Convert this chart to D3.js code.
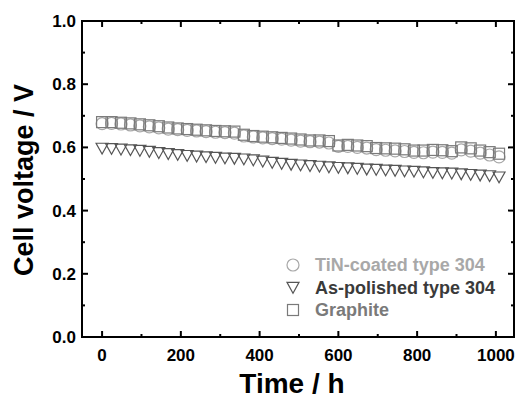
<!DOCTYPE html>
<html>
<head>
<meta charset="utf-8">
<script src="https://cdn.jsdelivr.net/npm/d3@7"></script>
<style>
  body { margin: 0; background: #fff; }
  text { font-family: "Liberation Sans", Arial, sans-serif; font-weight: bold; }
</style>
</head>
<body>
<svg id="chart" width="516" height="399"></svg>
<script>
// ----------

const HOURS = [0, 24, 48, 72, 96, 120, 144, 168, 192, 216, 240, 264, 288, 312, 336, 360, 384, 408, 432, 456, 480,
  504, 528, 552, 576, 600, 624, 648, 672, 696, 720, 744, 768, 792, 816, 840, 864, 888, 912, 936, 960, 984, 1008];

const GRAPHITE = [0.680, 0.680, 0.678, 0.676, 0.673, 0.670, 0.667, 0.663, 0.660, 0.658, 0.656, 0.654, 0.652, 0.651,
  0.650, 0.640, 0.636, 0.634, 0.632, 0.630, 0.628, 0.625, 0.622, 0.622, 0.620, 0.606, 0.608, 0.606, 0.604, 0.598,
  0.597, 0.596, 0.594, 0.590, 0.590, 0.592, 0.591, 0.588, 0.600, 0.597, 0.590, 0.585, 0.580];

const TIN_COATED = [0.675, 0.676, 0.674, 0.671, 0.668, 0.665, 0.662, 0.658, 0.656, 0.654, 0.652, 0.650, 0.648, 0.647,
  0.645, 0.636, 0.633, 0.630, 0.628, 0.626, 0.623, 0.620, 0.618, 0.617, 0.614, 0.603, 0.603, 0.600, 0.598, 0.593,
  0.591, 0.589, 0.587, 0.584, 0.583, 0.585, 0.584, 0.582, 0.592, 0.588, 0.582, 0.576, 0.570];

const AS_POLISHED = [0.597, 0.596, 0.594, 0.592, 0.590, 0.587, 0.583, 0.580, 0.577, 0.574, 0.572, 0.570, 0.568, 0.566,
  0.565, 0.563, 0.560, 0.556, 0.552, 0.549, 0.546, 0.544, 0.542, 0.540, 0.538, 0.536, 0.535, 0.533, 0.531, 0.530,
  0.528, 0.527, 0.525, 0.524, 0.522, 0.520, 0.519, 0.518, 0.516, 0.514, 0.512, 0.510, 0.506];

const X_TICKS = [0, 200, 400, 600, 800, 1000];
const X_MINOR = [100, 300, 500, 700, 900];
const Y_TICKS = [0.0, 0.2, 0.4, 0.6, 0.8, 1.0];
const Y_MINOR = [0.1, 0.3, 0.5, 0.7, 0.9];

const LEGEND = [
  { name: "TiN-coated type 304", symbol: "circle", color: "#a8a8a8", text: "#a8a8a8" },
  { name: "As-polished type 304", symbol: "triangle", color: "#555", text: "#3a3a3a" },
  { name: "Graphite", symbol: "square", color: "#7a7a7a", text: "#7a7a7a" }
];

// ----------

const PLOT = { left: 82, right: 514, top: 21, bottom: 337 };
const svg = d3.select("#chart");

const x = d3.scaleLinear().domain([-51, 1046]).range([PLOT.left, PLOT.right]);
const y = d3.scaleLinear().domain([0, 1]).range([PLOT.bottom, PLOT.top]);

function triangle(cx, cy, s) {
  return "M" + (cx - s) + "," + (cy - s * 0.85) + "L" + (cx + s) + "," + (cy - s * 0.85) +
    "L" + cx + "," + (cy + s * 0.95) + "Z";
}

function drawMarker(g, type, cx, cy, color) {
  if (type === "circle") {
    g.append("circle").attr("cx", cx).attr("cy", cy).attr("r", 6)
      .attr("fill", "none").attr("stroke", color).attr("stroke-width", 1.2);
  } else if (type === "square") {
    g.append("rect").attr("x", cx - 5.5).attr("y", cy - 5.5).attr("width", 11).attr("height", 11)
      .attr("fill", "none").attr("stroke", color).attr("stroke-width", 1.2);
  } else {
    g.append("path").attr("d", triangle(cx, cy, 6))
      .attr("fill", "none").attr("stroke", color).attr("stroke-width", 1.2);
  }
}

function drawSeries(values, type, color) {
  const g = svg.append("g");
  HOURS.forEach(function (h, i) {
    drawMarker(g, type, x(h), y(values[i]), color);
  });
}

drawSeries(TIN_COATED, "circle", "#a8a8a8");
drawSeries(GRAPHITE, "square", "#7a7a7a");
drawSeries(AS_POLISHED, "triangle", "#555");

// frame and ticks
const axes = svg.append("g").attr("stroke", "#000").attr("stroke-width", 2);
axes.append("rect").attr("x", PLOT.left).attr("y", PLOT.top)
  .attr("width", PLOT.right - PLOT.left).attr("height", PLOT.bottom - PLOT.top).attr("fill", "none");

function xTick(t, len) {
  axes.append("line").attr("x1", x(t)).attr("x2", x(t)).attr("y1", PLOT.bottom).attr("y2", PLOT.bottom - len);
  axes.append("line").attr("x1", x(t)).attr("x2", x(t)).attr("y1", PLOT.top).attr("y2", PLOT.top + len);
}
function yTick(t, len) {
  axes.append("line").attr("x1", PLOT.left).attr("x2", PLOT.left + len).attr("y1", y(t)).attr("y2", y(t));
  axes.append("line").attr("x1", PLOT.right).attr("x2", PLOT.right - len).attr("y1", y(t)).attr("y2", y(t));
}
X_TICKS.forEach(function (t) { xTick(t, 6); });
X_MINOR.forEach(function (t) { xTick(t, 3); });
Y_TICKS.forEach(function (t) { yTick(t, 6); });
Y_MINOR.forEach(function (t) { yTick(t, 3); });

// tick labels
svg.append("g").selectAll("text").data(X_TICKS).enter().append("text")
  .attr("x", function (d) { return x(d); }).attr("y", PLOT.bottom + 24)
  .attr("text-anchor", "middle").attr("font-size", 17).text(function (d) { return d; });

svg.append("g").selectAll("text").data(Y_TICKS).enter().append("text")
  .attr("x", PLOT.left - 6).attr("y", function (d) { return y(d) + 6; })
  .attr("text-anchor", "end").attr("font-size", 17).text(function (d) { return d.toFixed(1); });

// axis titles
svg.append("text").attr("x", 292).attr("y", 393).attr("text-anchor", "middle")
  .attr("font-size", 28).text("Time / h");
svg.append("text").attr("transform", "translate(33,180) rotate(-90)")
  .attr("text-anchor", "middle").attr("font-size", 27).text("Cell voltage / V");

// legend
const lg = svg.append("g");
LEGEND.forEach(function (d, i) {
  const ly = 265 + i * 22.5;
  drawMarker(lg, d.symbol, 293, ly, d.color);
  lg.append("text").attr("x", 315).attr("y", ly + 6).attr("font-size", 18).attr("fill", d.text).text(d.name);
});
</script>
</body>
</html>
